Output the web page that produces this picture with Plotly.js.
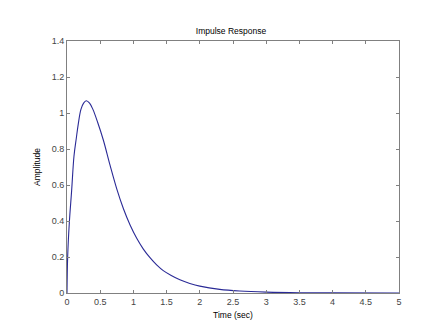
<!DOCTYPE html>
<html>
<head>
<meta charset="utf-8">
<script src="https://cdn.plot.ly/plotly-3.0.1.min.js"></script>
<style>html,body{margin:0;padding:0;background:#fff;}#chart{width:440px;height:329px;}</style>
</head>
<body>
<div id="chart"></div>
<script>
var timeSec = [0, 0.01, 0.035, 0.07, 0.105, 0.14, 0.17, 0.21, 0.25, 0.29, 0.34, 0.39, 0.46, 0.547, 0.648, 0.748, 0.85, 0.95, 1.05, 1.15, 1.25, 1.35, 1.45, 1.57, 1.7, 1.85, 2.0, 2.3, 2.6, 3.0, 3.5, 4.0, 5.0];
var amplitude = [0, 0.2, 0.39, 0.57, 0.76, 0.86, 0.94, 1.02, 1.055, 1.068, 1.055, 1.02, 0.95, 0.85, 0.71, 0.58, 0.468, 0.378, 0.304, 0.244, 0.196, 0.156, 0.124, 0.097, 0.073, 0.053, 0.038, 0.02, 0.011, 0.005, 0.0015, 0.0005, 0];
var xTicks = [0, 0.5, 1, 1.5, 2, 2.5, 3, 3.5, 4, 4.5, 5];
var xTickText = ['0', '0.5', '1', '1.5', '2', '2.5', '3', '3.5', '4', '4.5', '5'];
var yTicks = [0, 0.2, 0.4, 0.6, 0.8, 1, 1.2, 1.4];
var yTickText = ['0', '0.2', '0.4', '0.6', '0.8', '1', '1.2', '1.4'];

var axisCommon = {
  showgrid: false, zeroline: false,
  showline: true, mirror: 'ticks', linecolor: '#808080', linewidth: 1,
  ticks: 'inside', ticklen: 3, tickcolor: '#808080', tickwidth: 1,
  tickfont: {family: 'Liberation Sans, Arial, sans-serif', size: 9, color: '#444'}
};

var trace = {
  x: timeSec, y: amplitude, type: 'scatter', mode: 'lines',
  line: {color: '#2a2a96', width: 1.1, shape: 'spline', smoothing: 1},
  hoverinfo: 'skip'
};

var layout = {
  width: 440, height: 329,
  margin: {l: 67, r: 41, t: 41, b: 36, pad: 0},
  paper_bgcolor: '#fff', plot_bgcolor: '#fff',
  showlegend: false,
  title: {text: 'Impulse Response', font: {family: 'Liberation Sans, Arial, sans-serif', size: 8.5, color: '#000'}, x: 0.525, xanchor: 'center', y: 0.905, yanchor: 'middle'},
  xaxis: Object.assign({}, axisCommon, {
    range: [0, 5], tickvals: xTicks, ticktext: xTickText,
    title: {text: 'Time (sec)', font: {family: 'Liberation Sans, Arial, sans-serif', size: 8.5, color: '#000'}, standoff: 6}
  }),
  yaxis: Object.assign({}, axisCommon, {
    range: [0, 1.4], tickvals: yTicks, ticktext: yTickText,
    title: {text: 'Amplitude', font: {family: 'Liberation Sans, Arial, sans-serif', size: 8.5, color: '#000'}, standoff: 9}
  })
};

Plotly.newPlot('chart', [trace], layout, {staticPlot: true, displayModeBar: false});
</script>
</body>
</html>
